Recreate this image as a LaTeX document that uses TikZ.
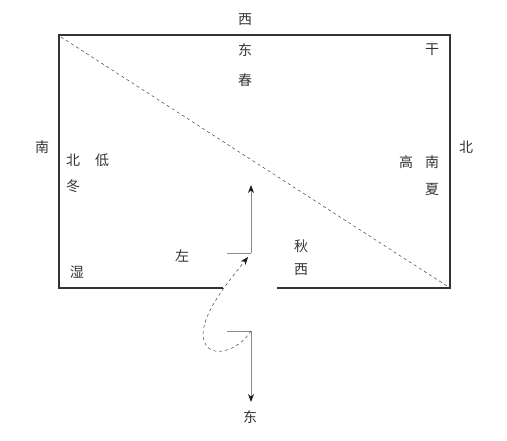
\documentclass[tikz,border=0pt]{standalone}
\usepackage{fontspec}
\newfontfamily\cjk{Noto Sans CJK SC}
\usetikzlibrary{arrows.meta}
\begin{document}
\begin{tikzpicture}[x=1pt,y=-1pt,
  lbl/.style={font=\cjk\fontsize{14}{14}\selectfont, text=black!80, inner sep=0pt},
  wall/.style={draw=black!80, line width=1.4pt},
  diag/.style={draw=black!75, line width=0.5pt, dash pattern=on 3pt off 3pt},
  move/.style={draw=black!45, line width=1pt},
  tip/.style={-{Stealth[length=8pt,width=6pt,color=black!90]}}
]
\useasboundingbox (0,0) rectangle (507,440);
\coordinate (gl) at (223,288);
\coordinate (bl) at (59,288);
\coordinate (tl) at (59,35);
\coordinate (tr) at (450,35);
\coordinate (br) at (450,288);
\coordinate (gr) at (277,288);
\draw[wall] (gl) -- (bl) -- (tl) -- (tr) -- (br) -- (gr);
\coordinate (d1) at (61,37);
\coordinate (d2) at (447,286);
\draw[diag] (d1) -- (d2);
% upper L
\coordinate (u0) at (227,253);
\coordinate (u1) at (251,253);
\coordinate (u2) at (251,185);
\draw[move] (u0) -- (u1);
\draw[move, tip] (u1) -- (u2);
% lower L
\coordinate (l0) at (227,331);
\coordinate (l1) at (251,331);
\coordinate (l2) at (251,402);
\draw[move] (l0) -- (l1);
\draw[move, tip] (l1) -- (l2);
% dashed curve
\coordinate (c1) at (203,335);
\coordinate (c2) at (248,257);
\draw[diag, tip] (l1) .. controls (238,352) and (205,362) .. (c1) .. controls (203,312) and (228,282) .. (c2);
% labels
\node[lbl] (t1) at (245,20) {西};
\node[lbl] (t2) at (245,50) {东};
\node[lbl] (t3) at (245,80) {春};
\node[lbl] (t4) at (432,50) {干};
\node[lbl] (t5) at (42,147) {南};
\node[lbl] (t6) at (466,147) {北};
\node[lbl] (t7) at (73,160) {北};
\node[lbl] (t8) at (102,160) {低};
\node[lbl] (t9) at (73,186) {冬};
\node[lbl] (t10) at (406,162) {高};
\node[lbl] (t11) at (432,162) {南};
\node[lbl] (t12) at (432,189) {夏};
\node[lbl] (t13) at (182,256) {左};
\node[lbl] (t14) at (77,272) {湿};
\node[lbl] (t15) at (301,246) {秋};
\node[lbl] (t16) at (301,270) {西};
\node[lbl] (t17) at (250,417) {东};
\end{tikzpicture}
\end{document}
